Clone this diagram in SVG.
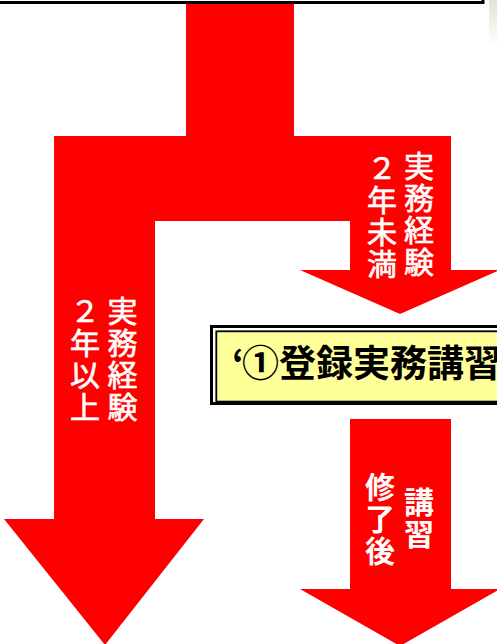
<svg xmlns="http://www.w3.org/2000/svg" width="497" height="644" viewBox="0 0 497 644">
  <defs>
    <style>
      .arrow { fill: #ff0000; stroke: none; }
      .vlabel { fill: #ffffff; font-family: "Noto Sans CJK JP", "Noto Sans CJK SC", sans-serif; font-size: 30px; writing-mode: vertical-rl; text-anchor: middle; letter-spacing: 2px; }
      .reg { font-weight: normal; stroke: #ffffff; stroke-width: 0.7px; }
      .bold { font-weight: bold; }
      .title { fill: #000000; font-family: "Noto Sans CJK JP", "Noto Sans CJK SC", sans-serif; font-size: 37px; font-weight: bold; }
    </style>
    <linearGradient id="edge" x1="0" y1="0" x2="0" y2="1">
      <stop offset="0" stop-color="#e4e2d6"/>
      <stop offset="1" stop-color="#ffffff"/>
    </linearGradient>
  </defs>
  <rect x="0" y="0" width="497" height="644" fill="#ffffff"/>
  <rect x="489" y="0" width="8" height="48" fill="url(#edge)"/>

  <g id="connectors">
    <path class="arrow" d="M186,3 L294,3 L294,136 L451,136 L451,270 L500,270 L400,314 L300,270 L350,270 L350,221 L155,221 L155,519 L204,519 L105,645 L4,519 L54,519 L54,136 L186,136 Z"/>
    <path class="arrow" d="M350,419 L451,419 L451,589 L500,589 L400,646 L300,589 L350,589 Z"/>
  </g>

  <g id="top-box">
    <rect x="-10" y="-20" width="493" height="22.5" fill="#ffffff" stroke="#000000" stroke-width="3"/>
  </g>

  <g id="label-short">
    <text class="vlabel reg" x="419" y="215">実務経験</text>
    <text class="vlabel reg" x="382" y="217">２年未満</text>
  </g>

  <g id="label-long">
    <text class="vlabel reg" x="122.5" y="360">実務経験</text>
    <text class="vlabel reg" x="85" y="360">２年以上</text>
  </g>

  <g id="label-after">
    <text class="vlabel bold" x="419" y="518.5">講習</text>
    <text class="vlabel bold" x="380" y="519.5">修了後</text>
  </g>

  <g id="course-box">
    <rect x="211.5" y="326.5" width="300" height="77" fill="#ffffff" stroke="#000000" stroke-width="3"/>
    <rect x="216.3" y="331.3" width="300" height="70.3" fill="#ffff99" stroke="#000000" stroke-width="1.8"/>
    <text class="title" y="377"><tspan x="232">‘</tspan><tspan x="242">①登録実務講習</tspan></text>
  </g>
</svg>
